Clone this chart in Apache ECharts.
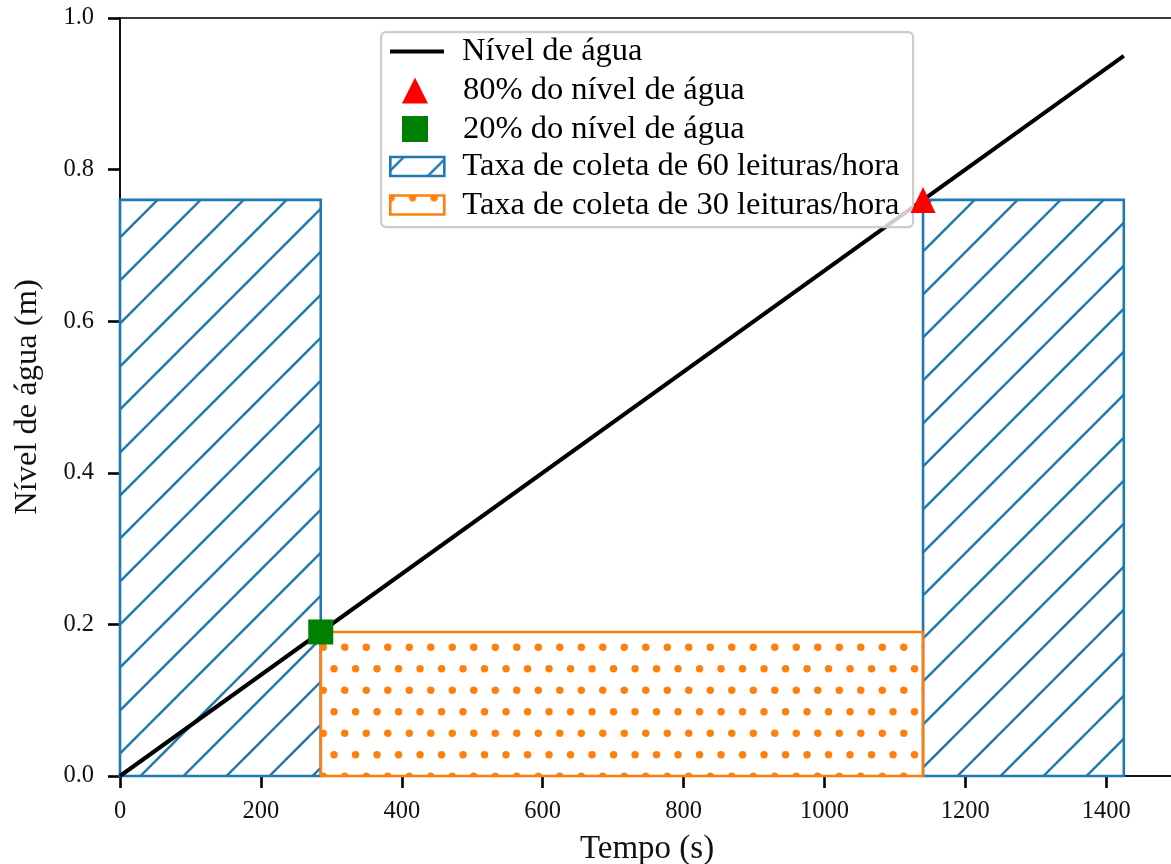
<!DOCTYPE html>
<html><head><meta charset="utf-8">
<script src="https://cdn.jsdelivr.net/npm/echarts@6/dist/echarts.min.js"></script>
<style>html,body{margin:0;padding:0;background:#fff}#c{width:1171px;height:864px}</style>
</head><body><div id="c"></div>
<script>
// ---- data ----
const tempo = [0, 1425];
const nivel = [0, 0.95];
const ponto80 = [1140, 0.76];
const ponto20 = [285, 0.19];
const faixas60 = [[0, 285, 0.76], [1140, 1425, 0.76]];
const faixas30 = [[285, 1140, 0.19]];
const nomes = ['Nível de água', '80% do nível de água', '20% do nível de água',
  'Taxa de coleta de 60 leituras/hora', 'Taxa de coleta de 30 leituras/hora'];
const xLim = [0, 1496.25];
const yLim = [0, 1.0];

// ---- patterns ----
const BLUE = '#1f77b4', ORANGE = '#ff7f0e';
function hatchPattern() {
  const s = 43, c = document.createElement('canvas');
  c.width = s; c.height = s;
  const g = c.getContext('2d');
  g.strokeStyle = BLUE; g.lineWidth = 2.4;
  for (let k = -1; k <= 2; k++) {
    const cc = 13.5 + k * s;
    g.beginPath(); g.moveTo(-10, cc + 10); g.lineTo(cc + 10, -10); g.stroke();
  }
  return { image: c, repeat: 'repeat' };
}
function dotPattern() {
  const s = 43, c = document.createElement('canvas');
  c.width = s; c.height = s;
  const g = c.getContext('2d');
  g.fillStyle = ORANGE;
  const pts = [[0.8, 2.2], [22.3, 2.2], [11.55, 23.7], [33.05, 23.7]];
  for (const [px, py] of pts) for (let dx = -s; dx <= s; dx += s) for (let dy = -s; dy <= s; dy += s) {
    g.beginPath(); g.arc(px + dx, py + dy, 3.7, 0, Math.PI * 2); g.fill();
  }
  return { image: c, repeat: 'repeat' };
}
const hatch = hatchPattern(), dots = dotPattern();

function rectRenderer(fill, stroke) {
  return function (params, api) {
    const p0 = api.coord([api.value(0), api.value(2)]);
    const p1 = api.coord([api.value(1), 0]);
    return { type: 'rect', shape: { x: p0[0], y: p0[1], width: p1[0] - p0[0], height: p1[1] - p0[1] },
      style: { fill: fill, stroke: stroke, lineWidth: 2.6 } };
  };
}

const FONT = 'Liberation Serif';
const legendText = { fontFamily: FONT, fontSize: 32.5, color: '#000', lineHeight: 25, padding: [0, 0, 0, 13] };
const chart = echarts.init(document.getElementById('c'), null, { renderer: 'canvas' });
chart.setOption({
  animation: false,
  backgroundColor: '#fff',
  grid: { left: 120, top: 18, right: -3, bottom: 88, outerBoundsMode: 'none', containLabel: false,
    show: true, borderColor: '#3a3a3a', borderWidth: 2, backgroundColor: 'transparent' },
  xAxis: {
    type: 'value', min: xLim[0], max: xLim[1], interval: 200,
    name: 'Tempo (s)', nameLocation: 'middle', nameGap: 57,
    nameTextStyle: { fontFamily: FONT, fontSize: 33, color: '#111' },
    axisLine: { show: true, onZero: false, lineStyle: { color: '#111', width: 2 } },
    axisTick: { show: true, length: 12, lineStyle: { color: '#000', width: 2.6 } },
    axisLabel: { margin: 23, fontFamily: FONT, fontSize: 24.5, color: '#111', showMaxLabel: false, formatter: v => String(v) },
    splitLine: { show: false }
  },
  yAxis: {
    type: 'value', min: yLim[0], max: yLim[1], interval: 0.2,
    name: 'Nível de água (m)', nameLocation: 'middle', nameGap: 76, nameRotate: 90,
    nameTextStyle: { fontFamily: FONT, fontSize: 32.5, color: '#111' },
    axisLine: { show: true, onZero: false, lineStyle: { color: '#111', width: 2 } },
    axisTick: { show: true, length: 12, lineStyle: { color: '#000', width: 2.6 } },
    axisLabel: { margin: 26, fontFamily: FONT, fontSize: 24.5, color: '#111', formatter: v => v.toFixed(1) },
    splitLine: { show: false }
  },
  graphic: [{
    type: 'rect', left: 380, top: 31, z: 5,
    shape: { width: 532, height: 195, r: 5 },
    style: { fill: 'rgba(255,255,255,0.8)', stroke: '#cccccc', lineWidth: 2.2 }
  }],
  legend: [
    { data: [{ name: nomes[0], itemStyle: { color: 'rgba(0,0,0,0)', borderWidth: 0, opacity: 0 }, lineStyle: { color: '#000', width: 4 } }],
      orient: 'vertical', left: 388, top: 35, padding: 0, itemWidth: 54, itemHeight: 19,
      selectedMode: false, z: 6, textStyle: legendText },
    { data: [{ name: nomes[1], icon: 'triangle', itemStyle: { color: '#ff0000', opacity: 1 } },
             { name: nomes[2], icon: 'rect', itemStyle: { color: '#008000', opacity: 1 } }],
      orient: 'vertical', left: 402, top: 74, padding: 0, itemWidth: 26, itemHeight: 26, itemGap: 5.5,
      selectedMode: false, z: 6, textStyle: Object.assign({}, legendText, { padding: [0, 0, 0, 30] }) },
    { data: [
        { name: nomes[3], icon: 'rect', itemStyle: { color: hatch, borderColor: BLUE, borderWidth: 2.6 } },
        { name: nomes[4], icon: 'rect', itemStyle: { color: dots, borderColor: ORANGE, borderWidth: 2.6 } }],
      orient: 'vertical', left: 389, top: 150, padding: 0, itemWidth: 54, itemHeight: 19, itemGap: 5.5,
      symbolKeepAspect: false, selectedMode: false, z: 6, textStyle: legendText }
  ],
  series: [
    { name: nomes[3], type: 'custom', z: 2, clip: false, renderItem: rectRenderer(hatch, BLUE),
      encode: { x: [0, 1], y: 2 }, data: faixas60, itemStyle: { color: hatch, borderColor: BLUE } },
    { name: nomes[4], type: 'custom', z: 2, clip: false, renderItem: rectRenderer(dots, ORANGE),
      encode: { x: [0, 1], y: 2 }, data: faixas30, itemStyle: { color: dots, borderColor: ORANGE } },
    { name: nomes[0], type: 'line', z: 3, symbol: 'none', lineStyle: { color: '#000', width: 4 }, itemStyle: { color: '#000' },
      data: tempo.map((t, i) => [t, nivel[i]]) },
    { name: nomes[1], type: 'scatter', z: 7, symbol: 'triangle', symbolSize: [25, 26], itemStyle: { color: '#ff0000', opacity: 1 },
      data: [ponto80] },
    { name: nomes[2], type: 'scatter', z: 7, symbol: 'rect', symbolSize: 25, itemStyle: { color: '#008000', opacity: 1 },
      data: [ponto20] }
  ]
});
</script></body></html>
